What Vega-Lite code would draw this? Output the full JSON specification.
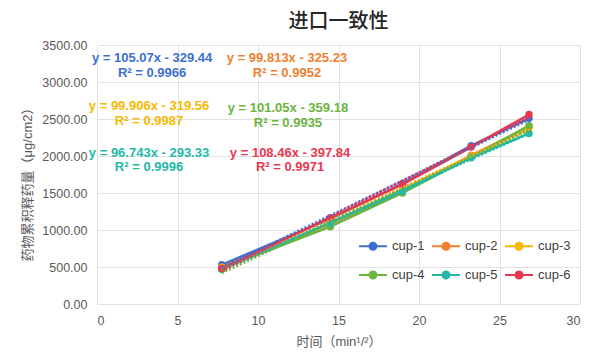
{
  "$schema": "https://vega.github.io/schema/vega-lite/v6.json",
  "width": 483,
  "height": 259,
  "autosize": {"type": "none"},
  "padding": {"left": 97, "top": 45, "right": 20, "bottom": 56},
  "background": "white",
  "config": {
    "font": "Liberation Sans, Noto Sans CJK SC",
    "view": {"stroke": null}
  },
  "title": {
    "text": "进口一致性",
    "font": "Noto Sans CJK SC",
    "fontSize": 20,
    "fontWeight": 500,
    "color": "#262626",
    "offset": 7,
    "anchor": "middle"
  },
  "datasets": {
    "release": [
      {"series": "cup-1", "x": 7.746, "y": 530},
      {"series": "cup-1", "x": 14.491, "y": 1150},
      {"series": "cup-1", "x": 18.974, "y": 1627},
      {"series": "cup-1", "x": 23.238, "y": 2139},
      {"series": "cup-1", "x": 26.833, "y": 2509},
      {"series": "cup-2", "x": 7.746, "y": 500},
      {"series": "cup-2", "x": 14.491, "y": 1080},
      {"series": "cup-2", "x": 18.974, "y": 1520},
      {"series": "cup-2", "x": 23.238, "y": 2010},
      {"series": "cup-2", "x": 26.833, "y": 2390},
      {"series": "cup-3", "x": 7.746, "y": 490},
      {"series": "cup-3", "x": 14.491, "y": 1090},
      {"series": "cup-3", "x": 18.974, "y": 1545},
      {"series": "cup-3", "x": 23.238, "y": 2000},
      {"series": "cup-3", "x": 26.833, "y": 2385},
      {"series": "cup-4", "x": 7.746, "y": 480},
      {"series": "cup-4", "x": 14.491, "y": 1045},
      {"series": "cup-4", "x": 18.974, "y": 1500},
      {"series": "cup-4", "x": 23.238, "y": 1985},
      {"series": "cup-4", "x": 26.833, "y": 2410},
      {"series": "cup-5", "x": 7.746, "y": 470},
      {"series": "cup-5", "x": 14.491, "y": 1095},
      {"series": "cup-5", "x": 18.974, "y": 1525},
      {"series": "cup-5", "x": 23.238, "y": 1975},
      {"series": "cup-5", "x": 26.833, "y": 2305},
      {"series": "cup-6", "x": 7.746, "y": 480},
      {"series": "cup-6", "x": 14.491, "y": 1165},
      {"series": "cup-6", "x": 18.974, "y": 1615},
      {"series": "cup-6", "x": 23.238, "y": 2120},
      {"series": "cup-6", "x": 26.833, "y": 2560}
    ],
    "labels": [
      {"series": "cup-1", "label": "y = 105.07x - 329.44", "x": 3.42, "y": 3324},
      {"series": "cup-1", "label": "R² = 0.9966", "x": 3.42, "y": 3122},
      {"series": "cup-2", "label": "y = 99.813x - 325.23", "x": 11.8, "y": 3324},
      {"series": "cup-2", "label": "R² = 0.9952", "x": 11.8, "y": 3122},
      {"series": "cup-3", "label": "y = 99.906x - 319.56", "x": 3.23, "y": 2676},
      {"series": "cup-3", "label": "R² = 0.9987", "x": 3.23, "y": 2473},
      {"series": "cup-4", "label": "y = 101.05x - 359.18", "x": 11.86, "y": 2649},
      {"series": "cup-4", "label": "R² = 0.9935", "x": 11.86, "y": 2446},
      {"series": "cup-5", "label": "y = 96.743x - 293.33", "x": 3.23, "y": 2041},
      {"series": "cup-5", "label": "R² = 0.9996", "x": 3.23, "y": 1851},
      {"series": "cup-6", "label": "y = 108.46x - 397.84", "x": 11.99, "y": 2041},
      {"series": "cup-6", "label": "R² = 0.9971", "x": 11.99, "y": 1851}
    ]
  },
  "encoding": {
    "x": {
      "field": "x", "type": "quantitative",
      "scale": {"domain": [0, 30], "nice": false},
      "axis": {
        "title": "时间（min¹/²）",
        "values": [0, 5, 10, 15, 20, 25, 30],
        "format": "d",
        "labelFontSize": 12.5,
        "labelColor": "#595959",
        "labelPadding": 10,
        "labelOverlap": false,
        "titleFontSize": 13,
        "titleFontWeight": "normal",
        "titleColor": "#595959",
        "titlePadding": 9,
        "domain": false,
        "ticks": false,
        "grid": true,
        "gridColor": "#e2e2e2"
      }
    },
    "y": {
      "field": "y", "type": "quantitative",
      "scale": {"domain": [0, 3500], "nice": false},
      "axis": {
        "title": "药物累积释药量（μg/cm2）",
        "values": [0, 500, 1000, 1500, 2000, 2500, 3000, 3500],
        "tickCount": 8,
        "format": ".2f",
        "labelFontSize": 12.5,
        "labelColor": "#595959",
        "labelPadding": 10,
        "labelOverlap": false,
        "labelFlush": false,
        "titleFontSize": 13,
        "titleFontWeight": "normal",
        "titleColor": "#595959",
        "titlePadding": 7,
        "titleY": 136,
        "domain": false,
        "ticks": false,
        "grid": true,
        "gridColor": "#e2e2e2"
      }
    },
    "color": {
      "field": "series", "type": "nominal",
      "scale": {
        "domain": ["cup-1", "cup-2", "cup-3", "cup-4", "cup-5", "cup-6"],
        "range": ["#3D6FD1", "#F07F2F", "#F6B900", "#6BB43F", "#24B8A8", "#E8384F"]
      },
      "legend": {
        "title": null,
        "orient": "none",
        "direction": "horizontal",
        "legendX": 261,
        "legendY": 186,
        "columns": 3,
        "padding": 0,
        "symbolType": "M-1,0H1M-0.25,0A0.25,0.25 0 1,0 0.25,0A0.25,0.25 0 1,0 -0.25,0Z",
        "symbolSize": 784,
        "symbolStrokeWidth": 2,
        "labelFontSize": 13,
        "labelColor": "#404040",
        "labelOffset": 4,
        "columnPadding": 3,
        "rowPadding": 6,
        "encode": {
          "symbols": {
            "update": {
              "stroke": {"scale": "color", "field": "value"},
              "fill": {"scale": "color", "field": "value"},
              "opacity": {"value": 1}
            }
          }
        }
      }
    }
  },
  "layer": [
    {
      "data": {"name": "release"},
      "mark": {"type": "line", "strokeWidth": 2.5, "point": {"filled": true, "size": 55}}
    },
    {
      "data": {"name": "release"},
      "transform": [
        {"regression": "y", "on": "x", "groupby": ["series"], "method": "linear"}
      ],
      "mark": {"type": "line", "strokeWidth": 2.5, "strokeDash": [2, 2]}
    },
    {
      "data": {"name": "labels"},
      "mark": {"type": "text", "fontSize": 13, "fontWeight": "bold", "align": "center", "baseline": "middle"},
      "encoding": {
        "text": {"field": "label"}
      }
    }
  ]
}
